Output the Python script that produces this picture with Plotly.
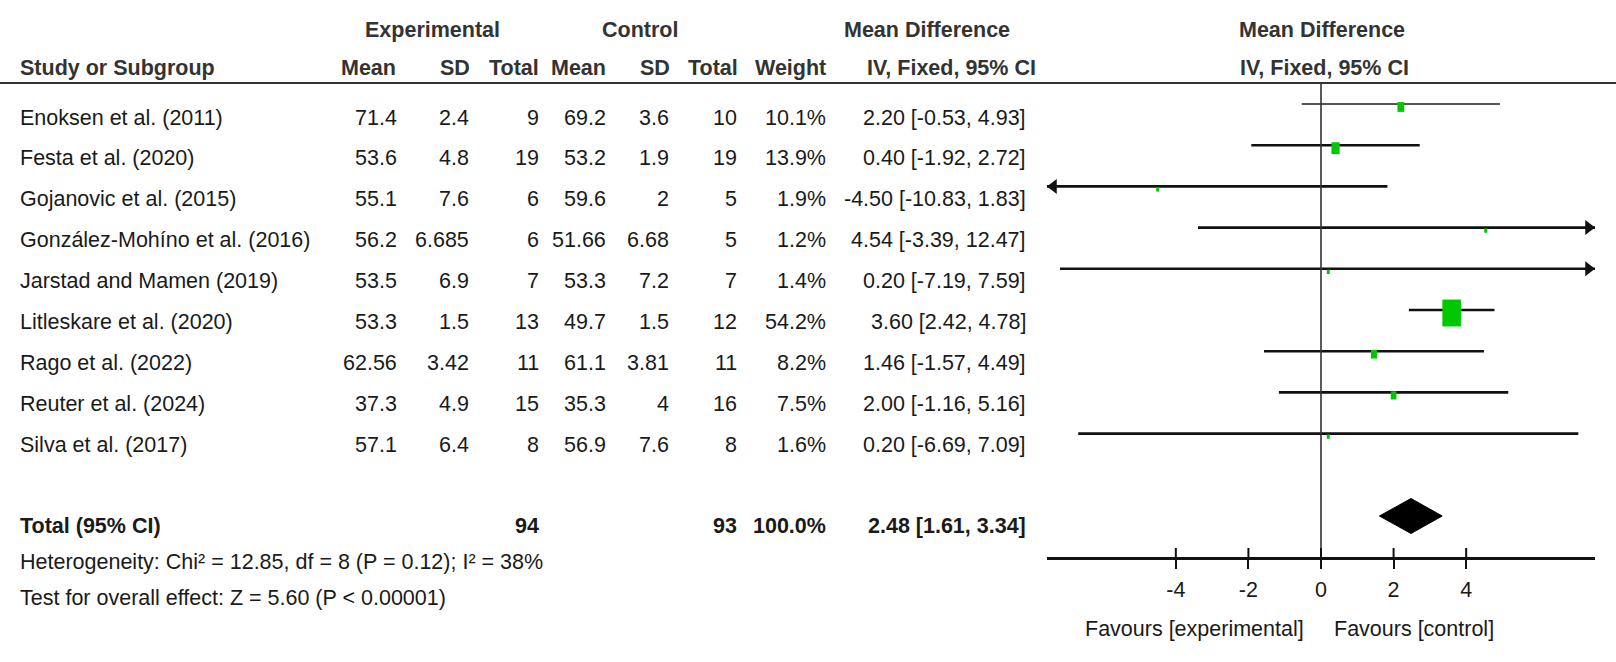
import plotly.graph_objects as go

# ---------------- data ----------------
studies = ["Enoksen et al. (2011)", "Festa et al. (2020)", "Gojanovic et al. (2015)",
           "González-Mohíno et al. (2016)", "Jarstad and Mamen (2019)", "Litleskare et al. (2020)",
           "Rago et al. (2022)", "Reuter et al. (2024)", "Silva et al. (2017)"]
exp_mean = [71.4, 53.6, 55.1, 56.2, 53.5, 53.3, 62.56, 37.3, 57.1]
exp_sd = [2.4, 4.8, 7.6, 6.685, 6.9, 1.5, 3.42, 4.9, 6.4]
exp_n = [9, 19, 6, 6, 7, 13, 11, 15, 8]
ctl_mean = [69.2, 53.2, 59.6, 51.66, 53.3, 49.7, 61.1, 35.3, 56.9]
ctl_sd = [3.6, 1.9, 2, 6.68, 7.2, 1.5, 3.81, 4, 7.6]
ctl_n = [10, 19, 5, 5, 7, 12, 11, 16, 8]
weight = [10.1, 13.9, 1.9, 1.2, 1.4, 54.2, 8.2, 7.5, 1.6]
md = [2.20, 0.40, -4.50, 4.54, 0.20, 3.60, 1.46, 2.00, 0.20]
ci_lo = [-0.53, -1.92, -10.83, -3.39, -7.19, 2.42, -1.57, -1.16, -6.69]
ci_hi = [4.93, 2.72, 1.83, 12.47, 7.59, 4.78, 4.49, 5.16, 7.09]

total_exp_n = 94
total_ctl_n = 93
total_weight = 100.0
total_md = 2.48
total_lo = 1.61
total_hi = 3.34

heterogeneity = "Heterogeneity: Chi² = 12.85, df = 8 (P = 0.12); I² = 38%"
overall = "Test for overall effect: Z = 5.60 (P < 0.00001)"

tick_vals = [-4, -2, 0, 2, 4]
tick_text = ["-4", "-2", "0", "2", "4"]
x_lim = 7.55

# ---------------- layout constants ----------------
W, H = 1616, 662
FONT = "Liberation Sans, Arial, sans-serif"
FS = 21.5
HDR_COL = "#333333"
TXT_COL = "#1a1a1a"
GREEN = "#00c800"

ax_left, ax_right = 1047, 1595
px_per_unit = (ax_right - ax_left) / (2 * x_lim)
header_line_y = 83
axis_y = 558
row_line_y = [104 + 41.2 * i for i in range(len(studies))]
row_text_y = [117.5 + 40.9 * i for i in range(len(studies))]
total_line_y = 516
total_text_y = 526

fig = go.Figure()

# CI lines (first one rendered lighter, as in the source)
for i in range(len(studies)):
    lo = max(ci_lo[i], -x_lim)
    hi = min(ci_hi[i], x_lim)
    col = "#555555" if i == 0 else "#111111"
    wid = 2.2 if i == 0 else 2.6
    fig.add_trace(go.Scatter(x=[lo, hi], y=[row_line_y[i], row_line_y[i]], mode="lines",
                             line=dict(color=col, width=wid),
                             hoverinfo="skip", showlegend=False, cliponaxis=False))

# arrows for clipped CIs
ar_x, ar_y, ar_sym = [], [], []
tip = 6.5 / px_per_unit
for i in range(len(studies)):
    if ci_lo[i] < -x_lim:
        ar_x.append(-x_lim + tip); ar_y.append(row_line_y[i]); ar_sym.append("triangle-left")
    if ci_hi[i] > x_lim:
        ar_x.append(x_lim - tip); ar_y.append(row_line_y[i]); ar_sym.append("triangle-right")
fig.add_trace(go.Scatter(x=ar_x, y=ar_y, mode="markers",
                         marker=dict(symbol=ar_sym, size=13, color="#111111", line=dict(width=0)),
                         hoverinfo="skip", showlegend=False, cliponaxis=False))

# weight boxes (rectangles scaled by weight)
for i in range(len(studies)):
    wpx = max(3.0, 1.69 * weight[i] ** 0.6)
    hpx = wpx * 1.45
    hw = wpx / 2 / px_per_unit
    cy = row_line_y[i] + 3
    fig.add_shape(type="rect", xref="x", yref="y",
                  x0=md[i] - hw, x1=md[i] + hw, y0=cy - hpx / 2, y1=cy + hpx / 2,
                  fillcolor=GREEN, line=dict(width=0), layer="above")

# total diamond
fig.add_trace(go.Scatter(x=[total_lo, total_md, total_hi, total_md, total_lo],
                         y=[total_line_y, total_line_y - 17.5, total_line_y, total_line_y + 17.5, total_line_y],
                         mode="lines", fill="toself", fillcolor="black", line=dict(color="black", width=1),
                         hoverinfo="skip", showlegend=False))

# zero line
fig.add_shape(type="line", xref="x", yref="y", x0=0, x1=0, y0=header_line_y, y1=axis_y,
              line=dict(color="#333333", width=1.6))
# header rule
fig.add_shape(type="line", xref="paper", yref="y", x0=0, x1=1, y0=header_line_y, y1=header_line_y,
              line=dict(color="#333333", width=2.2))
# upper halves of ticks
for tv in tick_vals:
    fig.add_shape(type="line", xref="x", yref="y", x0=tv, x1=tv, y0=axis_y - 10, y1=axis_y,
                  line=dict(color="#111111", width=2))


def txt(x, y, s, anchor="left", bold=False, color=TXT_COL, size=FS):
    fig.add_annotation(x=x / W, y=y, xref="paper", yref="y", text=f"<b>{s}</b>" if bold else s,
                       showarrow=False, xanchor=anchor, yanchor="middle",
                       font=dict(family=FONT, size=size, color=color))


def fmt(v):
    return f"{v:g}"


# headers
txt(432, 30, "Experimental", "center", True, HDR_COL)
txt(640, 30, "Control", "center", True, HDR_COL)
txt(927, 30, "Mean Difference", "center", True, HDR_COL)
txt(1322, 30, "Mean Difference", "center", True, HDR_COL)
hdr2 = [(18, "Study or Subgroup", "left"), (398, "Mean", "right"), (472, "SD", "right"),
        (541, "Total", "right"), (608, "Mean", "right"), (672, "SD", "right"),
        (740, "Total", "right"), (828, "Weight", "right"), (1038, "IV, Fixed, 95% CI", "right")]
for x, s, a in hdr2:
    txt(x, 68, s, a, True, HDR_COL)
txt(1324, 68, "IV, Fixed, 95% CI", "center", True, HDR_COL)

# rows
for i in range(len(studies)):
    y = row_text_y[i]
    txt(18, y, studies[i])
    txt(399, y, fmt(exp_mean[i]), "right")
    txt(471, y, fmt(exp_sd[i]), "right")
    txt(541, y, str(exp_n[i]), "right")
    txt(608, y, fmt(ctl_mean[i]), "right")
    txt(671, y, fmt(ctl_sd[i]), "right")
    txt(739, y, str(ctl_n[i]), "right")
    txt(828, y, f"{weight[i]:.1f}%", "right")
    txt(1028, y, f"{md[i]:.2f} [{ci_lo[i]:.2f}, {ci_hi[i]:.2f}]", "right")

# total row
txt(18, total_text_y, "Total (95% CI)", "left", True)
txt(541, total_text_y, str(total_exp_n), "right", True)
txt(739, total_text_y, str(total_ctl_n), "right", True)
txt(828, total_text_y, f"{total_weight:.1f}%", "right", True)
txt(1028, total_text_y, f"{total_md:.2f} [{total_lo:.2f}, {total_hi:.2f}]", "right", True)

txt(18, 562, heterogeneity)
txt(18, 598, overall)

txt(1306, 629, "Favours [experimental]", "right")
txt(1332, 629, "Favours [control]", "left")

fig.update_layout(
    width=W, height=H, margin=dict(l=0, r=0, t=0, b=0),
    paper_bgcolor="white", plot_bgcolor="white", showlegend=False,
    xaxis=dict(domain=[ax_left / W, ax_right / W], range=[-x_lim, x_lim], anchor="free",
               position=1 - axis_y / H, showline=True, linecolor="#111111", linewidth=2.6,
               showgrid=False, zeroline=False, ticks="outside", ticklen=9, tickwidth=2,
               tickcolor="#111111", tickvals=tick_vals, ticktext=tick_text,
               tickfont=dict(family=FONT, size=FS, color=TXT_COL), ticklabelstandoff=2),
    yaxis=dict(domain=[0, 1], range=[H, 0], visible=False, showgrid=False, zeroline=False),
)

fig.write_html("out.html", config={"displayModeBar": False},
               post_script="document.body.style.margin='0';")
